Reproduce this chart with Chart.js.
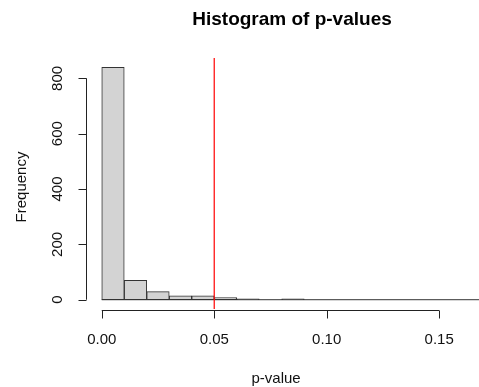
<!DOCTYPE html>
<html>
<head>
<meta charset="utf-8">
<script src="https://cdn.jsdelivr.net/npm/chart.js@4"></script>
<style>
  html, body { margin: 0; padding: 0; background: #fff; }
  canvas { display: block; }
</style>
</head>
<body>
<canvas id="histChart" width="479" height="387"></canvas>
<script>
// bin breaks (width 0.01) and counts
const binStarts = [0, 0.01, 0.02, 0.03, 0.04, 0.05, 0.06, 0.07, 0.08, 0.09,
                   0.10, 0.11, 0.12, 0.13, 0.14, 0.15, 0.16, 0.17];
const counts = [840, 70, 29, 14, 14, 8, 3, 0, 3, 0,
                0, 0, 0, 0, 0, 0, 0, 0];
const binWidth = 0.01;
const cutoff = 0.05;
const xTicks = [0, 0.05, 0.10, 0.15];
const yTicks = [0, 200, 400, 600, 800];

const font = '"Liberation Sans", Arial, sans-serif';

// R style axes, title and labels
const rAxes = {
    id: 'rAxes',
    afterDraw(chart) {
        const ctx = chart.ctx;
        const xs = chart.scales.x;
        const ys = chart.scales.y;
        const area = chart.chartArea;
        ctx.save();
        ctx.strokeStyle = '#222';
        ctx.lineWidth = 1;
        ctx.fillStyle = '#111';

        // x axis
        const axY = Math.round(area.bottom) + 1.5;
        ctx.beginPath();
        ctx.moveTo(xs.getPixelForValue(xTicks[0]), axY);
        ctx.lineTo(xs.getPixelForValue(xTicks[xTicks.length - 1]), axY);
        xTicks.forEach(function (t) {
            const px = Math.round(xs.getPixelForValue(t)) + 0.5;
            ctx.moveTo(px, axY);
            ctx.lineTo(px, axY + 8);
        });
        ctx.stroke();
        ctx.font = '15px ' + font;
        ctx.textAlign = 'center';
        ctx.textBaseline = 'middle';
        xTicks.forEach(function (t) {
            ctx.fillText(t.toFixed(2), xs.getPixelForValue(t), 340);
        });
        ctx.fillText('p-value', xs.getPixelForValue(0.0775), 379);

        // y axis
        const axX = Math.round(area.left) + 0.5;
        ctx.beginPath();
        ctx.moveTo(axX, ys.getPixelForValue(yTicks[0]));
        ctx.lineTo(axX, ys.getPixelForValue(yTicks[yTicks.length - 1]));
        yTicks.forEach(function (t) {
            const py = Math.round(ys.getPixelForValue(t)) + 0.5;
            ctx.moveTo(axX, py);
            ctx.lineTo(axX - 8, py);
        });
        ctx.stroke();
        yTicks.forEach(function (t) {
            ctx.save();
            ctx.translate(58, ys.getPixelForValue(t));
            ctx.rotate(-Math.PI / 2);
            ctx.fillText(String(t), 0, 0);
            ctx.restore();
        });
        ctx.save();
        ctx.translate(22, 187);
        ctx.rotate(-Math.PI / 2);
        ctx.fillText('Frequency', 0, 0);
        ctx.restore();

        // title
        ctx.font = 'bold 19px ' + font;
        ctx.fillStyle = '#000';
        ctx.fillText('Histogram of p-values', 292, 20);
        ctx.restore();
    }
};

const histChart = new Chart(document.getElementById('histChart').getContext('2d'), {
    type: 'bar',
    data: {
        datasets: [
            {
                type: 'line',
                data: [{ x: cutoff, y: -40 }, { x: cutoff, y: 900 }],
                borderColor: '#ff0000',
                borderWidth: 1.2,
                pointRadius: 0,
                order: 0
            },
            {
                type: 'line',
                data: [{ x: binStarts[0], y: 0 },
                       { x: binStarts[binStarts.length - 1] + binWidth, y: 0 }],
                borderColor: '#333',
                borderWidth: 1,
                pointRadius: 0,
                order: 1
            },
            {
                data: binStarts.map(function (b, i) {
                    return { x: b + binWidth / 2, y: counts[i] };
                }),
                backgroundColor: '#d3d3d3',
                borderColor: '#333',
                borderWidth: 1,
                borderSkipped: false,
                barPercentage: 1,
                categoryPercentage: 1,
                order: 2
            }
        ]
    },
    options: {
        responsive: false,
        animation: false,
        devicePixelRatio: 1,
        layout: {
            padding: { left: 86, right: 0, top: 58, bottom: 78 }
        },
        plugins: {
            legend: { display: false },
            tooltip: { enabled: false },
            title: { display: false }
        },
        scales: {
            x: {
                type: 'linear',
                min: -0.007,
                max: 0.1677,
                offset: false,
                display: false
            },
            y: {
                min: -33.6,
                max: 873.6,
                display: false
            }
        }
    },
    plugins: [rAxes]
});
</script>
</body>
</html>
